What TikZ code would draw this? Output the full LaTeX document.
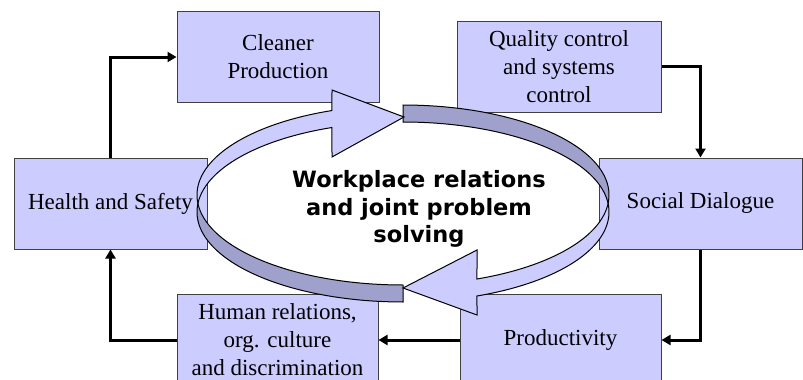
\documentclass[tikz,border=0pt]{standalone}
\usepackage{fontspec}
\setmainfont{Liberation Serif}
\newfontfamily\hubfont{DejaVu Sans}
\usetikzlibrary{arrows.meta}
\definecolor{boxfill}{HTML}{CCCCFF}
\definecolor{bandlight}{HTML}{CCCCFF}
\definecolor{banddark}{HTML}{A0A0CC}
\definecolor{boxline}{HTML}{404040}

\begin{document}
\begin{tikzpicture}[x=1pt,y=-1pt,
  topic/.style={draw=boxline, line width=1pt, fill=boxfill,
    minimum width=202pt, minimum height=91pt, inner sep=0pt,
    align=center, font=\fontsize{23}{28}\selectfont},
  link/.style={line width=3pt, -{Triangle[length=9pt,width=10pt]}},
  band/.style={draw=black, line width=1pt, line join=miter}]
\useasboundingbox (0,0) rectangle (803,380);
\clip (0,0) rectangle (803,380);

% topic boxes
\node[topic, minimum width=202pt] (cp) at (278,57) {Cleaner\\Production};
\node[topic, minimum width=204pt] (qc) at (559,66.5) {Quality control\\and systems\\control};
\node[topic, minimum width=193pt] (hs) at (110.5,203.5) {Health and Safety};
\node[topic, minimum width=203pt] (sd) at (700.5,203.5) {Social Dialogue};
\node[topic, minimum width=201pt, minimum height=92pt] (hr) at (277.5,340) {Human relations,\\org. culture\\and discrimination};
\node[topic, minimum width=201pt, minimum height=92pt] (pr) at (560.5,340) {Productivity};

% clockwise chain of connectors
\draw[link] (hs.north) |- (cp.west);
\draw[link] (qc.east) -| (sd.north);
\draw[link] (sd.south) |- (pr.east);
\draw[link] (pr.west) -- (hr.east);
\draw[link] (hr.west) -| (hs.south);

% ring of two chasing arrows; upper rim centred at y=195, lower rim at y=212
\draw[band, fill=banddark]
  plot[domain=270:365.42, samples=60] ({403+206*cos(\x)},{195+90*sin(\x)})
  -- plot[domain=354.58:270, samples=60] ({403+206*cos(\x)},{212+90*sin(\x)}) -- cycle;
\draw[band, fill=banddark]
  plot[domain=90:174.58, samples=60] ({403+206*cos(\x)},{195+90*sin(\x)})
  -- plot[domain=185.42:90, samples=60] ({403+206*cos(\x)},{212+90*sin(\x)}) -- cycle;
\draw[band, fill=bandlight]
  plot[domain=174.58:249.83, samples=60] ({403+206*cos(\x)},{195+90*sin(\x)})
  -- (332,90) -- (404,117) -- (332,157)
  -- plot[domain=249.83:185.42, samples=60] ({403+206*cos(\x)},{212+90*sin(\x)}) -- cycle;
\draw[band, fill=bandlight]
  plot[domain=5.42:68.95, samples=60] ({403+206*cos(\x)},{195+90*sin(\x)})
  -- (477,250) -- (403,288) -- (477,315)
  -- plot[domain=68.95:-5.42, samples=60] ({403+206*cos(\x)},{212+90*sin(\x)}) -- cycle;

% centre label
\node[font=\hubfont\bfseries\fontsize{22.5}{27.5}\selectfont, align=center]
  (hub) at (419,209) {Workplace relations\\and joint problem\\solving};
\end{tikzpicture}
\end{document}
